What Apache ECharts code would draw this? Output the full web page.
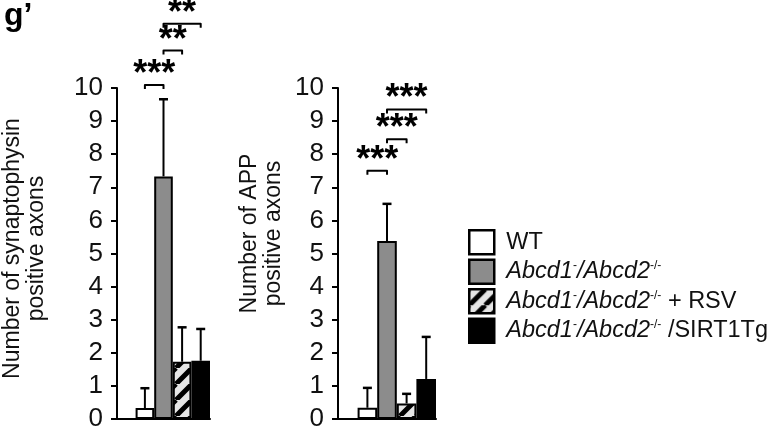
<!DOCTYPE html>
<html>
<head>
<meta charset="utf-8">
<script src="https://cdn.jsdelivr.net/npm/echarts@6/dist/echarts.min.js"></script>
<style>
html,body{margin:0;padding:0;background:#fff;}
#c{width:773px;height:432px;}
</style>
</head>
<body>
<div id="c"></div>
<script>
// ---- data ----
const categories = ['', 'WT', 'KO', 'KO+RSV', 'KO/SIRT1Tg'];
const groupNames = ['WT', 'Abcd1-/Abcd2-/-', 'Abcd1-/Abcd2-/- + RSV', 'Abcd1-/Abcd2-/- /SIRT1Tg'];
const synMean = [0.33, 7.33, 1.73, 1.76];
const synSd = [0.60, 2.33, 1.04, 0.96];
const appMean = [0.34, 5.38, 0.47, 1.21];
const appSd = [0.60, 1.12, 0.29, 1.27];
// significance brackets: [fromCat, toCat, level]
const synSig = [[1, 2, 10.09], [2, 3, 11.13], [2, 4, 11.94]];
const synSigText = ['***', '**', '**'];
const appSig = [[1, 2, 7.5], [2, 3, 8.45], [2, 4, 9.35]];
const appSigText = ['***', '***', '***'];
const yTicks = [0, 1, 2, 3, 4, 5, 6, 7, 8, 9, 10];

const FONT = 'Liberation Sans, Arial, Helvetica, sans-serif';

function hatchCanvas() {
  const s = 16;
  const c = document.createElement('canvas');
  c.width = s; c.height = s;
  const g = c.getContext('2d');
  g.fillStyle = '#e6e6e6';
  g.fillRect(0, 0, s, s);
  g.strokeStyle = '#000';
  g.lineWidth = 5;
  g.beginPath();
  for (const k of [-s, 0, s]) { g.moveTo(k, s); g.lineTo(k + s, 0); }
  g.stroke();
  return c;
}
const fills = ['#ffffff', '#8c8c8c', { image: hatchCanvas(), repeat: 'repeat' }, '#000000'];

const chart = echarts.init(document.getElementById('c'));

function barSeries(means, axisIdx) {
  return means.map((m, i) => {
    const d = categories.map(() => '-');
    d[i + 1] = m;
    return {
      name: groupNames[i], type: 'bar', xAxisIndex: axisIdx, yAxisIndex: axisIdx,
      data: d, barGap: '-100%', barCategoryGap: '0%',
      itemStyle: { color: fills[i], borderColor: '#000', borderWidth: 2 },
      z: 2
    };
  });
}

function errSeries(means, sds, axisIdx) {
  return {
    type: 'custom', xAxisIndex: axisIdx, yAxisIndex: axisIdx, z: 3, silent: true,
    data: means.map((m, i) => [i + 1, m, m + sds[i]]),
    renderItem: function (params, api) {
      const x = api.value(0);
      const p0 = api.coord([x, api.value(1)]);
      const p1 = api.coord([x, api.value(2)]);
      const hw = 4.5;
      return {
        type: 'group', children: [
          { type: 'line', shape: { x1: p0[0], y1: p0[1], x2: p1[0], y2: p1[1] }, style: { stroke: '#000', lineWidth: 2 } },
          { type: 'line', shape: { x1: p1[0] - hw, y1: p1[1], x2: p1[0] + hw, y2: p1[1] }, style: { stroke: '#000', lineWidth: 2.5 } }
        ]
      };
    }
  };
}

function sigSeries(sig, texts, axisIdx) {
  return {
    type: 'custom', xAxisIndex: axisIdx, yAxisIndex: axisIdx, z: 4, silent: true, clip: false,
    data: sig,
    renderItem: function (params, api) {
      const a = api.coord([api.value(0), api.value(2)]);
      const b = api.coord([api.value(1), api.value(2)]);
      const leg = 4;
      return {
        type: 'group', children: [
          { type: 'polyline', shape: { points: [[a[0], a[1] + leg], [a[0], a[1]], [b[0], b[1]], [b[0], b[1] + leg]] },
            style: { stroke: '#000', lineWidth: 2, fill: null, lineJoin: 'round' } },
          { type: 'text', x: (a[0] + b[0]) / 2, y: a[1] - 10,
            style: { text: texts[params.dataIndex], font: 'bold 36px ' + FONT, textAlign: 'center', textVerticalAlign: 'middle', fill: '#000' } }
        ]
      };
    }
  };
}

function yAx(gridIndex, name, gap, pad) {
  return {
    type: 'value', gridIndex: gridIndex, min: yTicks[0], max: yTicks[yTicks.length - 1], interval: 1,
    name: name, nameLocation: 'middle', nameGap: gap, nameRotate: 90,
    nameTextStyle: { fontSize: 23, color: '#111', fontFamily: FONT, lineHeight: 24, padding: pad },
    axisLine: { show: true, lineStyle: { color: '#000', width: 2 } },
    axisTick: { show: true, length: 6, lineStyle: { color: '#000', width: 2 } },
    axisLabel: { fontSize: 26, color: '#111', fontFamily: FONT, margin: 14 },
    splitLine: { show: false }
  };
}
function xAx(gridIndex) {
  return {
    type: 'category', gridIndex: gridIndex, data: categories,
    axisLine: { show: true, lineStyle: { color: '#000', width: 2 } },
    axisTick: { show: false }, axisLabel: { show: false }
  };
}

const ko = '{i|Abcd1}{s|-}{i|/Abcd2}{s|-/-}';
const legendText = {};
legendText[groupNames[0]] = '{sp|}{n|WT}';
legendText[groupNames[1]] = '{sp|}' + ko;
legendText[groupNames[2]] = '{sp|}' + ko + '{n| + RSV}';
legendText[groupNames[3]] = '{sp|}' + ko + '{n| /SIRT1Tg}';

chart.setOption({
  animation: false,
  title: { text: 'g\u2019', left: -1, top: -5, textStyle: { fontSize: 32, fontWeight: 'bold', fontFamily: FONT, color: '#000' } },
  grid: [
    { left: 113, top: 88, width: 97, height: 336 },
    { left: 338, top: 88, width: 98, height: 336 }
  ],
  xAxis: [xAx(0), xAx(1)],
  yAxis: [
    yAx(0, 'Number of synaptophysin\npositive axons', 68, [0, 0, 0, 10]),
    yAx(1, 'Number of APP\npositive axons', 52, [0, 0, 0, 40])
  ],
  legend: {
    orient: 'vertical', left: 463, top: 224, itemWidth: 25, itemHeight: 24, itemGap: 3, icon: 'rect',
    data: groupNames,
    itemStyle: { borderWidth: 2.5 },
    formatter: function (n) { return legendText[n]; },
    textStyle: {
      fontSize: 23.5, color: '#111', fontFamily: FONT, lineHeight: 24,
      rich: {
        sp: { width: 7, lineHeight: 24 },
        n: { fontSize: 23.5, fontFamily: FONT, color: '#111', lineHeight: 24 },
        i: { fontSize: 23.5, fontStyle: 'italic', fontFamily: FONT, color: '#111', lineHeight: 24 },
        s: { fontSize: 12, fontFamily: FONT, color: '#111', verticalAlign: 'top', lineHeight: 24 }
      }
    }
  },
  series: [].concat(
    barSeries(synMean, 0), [errSeries(synMean, synSd, 0), sigSeries(synSig, synSigText, 0)],
    barSeries(appMean, 1), [errSeries(appMean, appSd, 1), sigSeries(appSig, appSigText, 1)]
  )
});
</script>
</body>
</html>
